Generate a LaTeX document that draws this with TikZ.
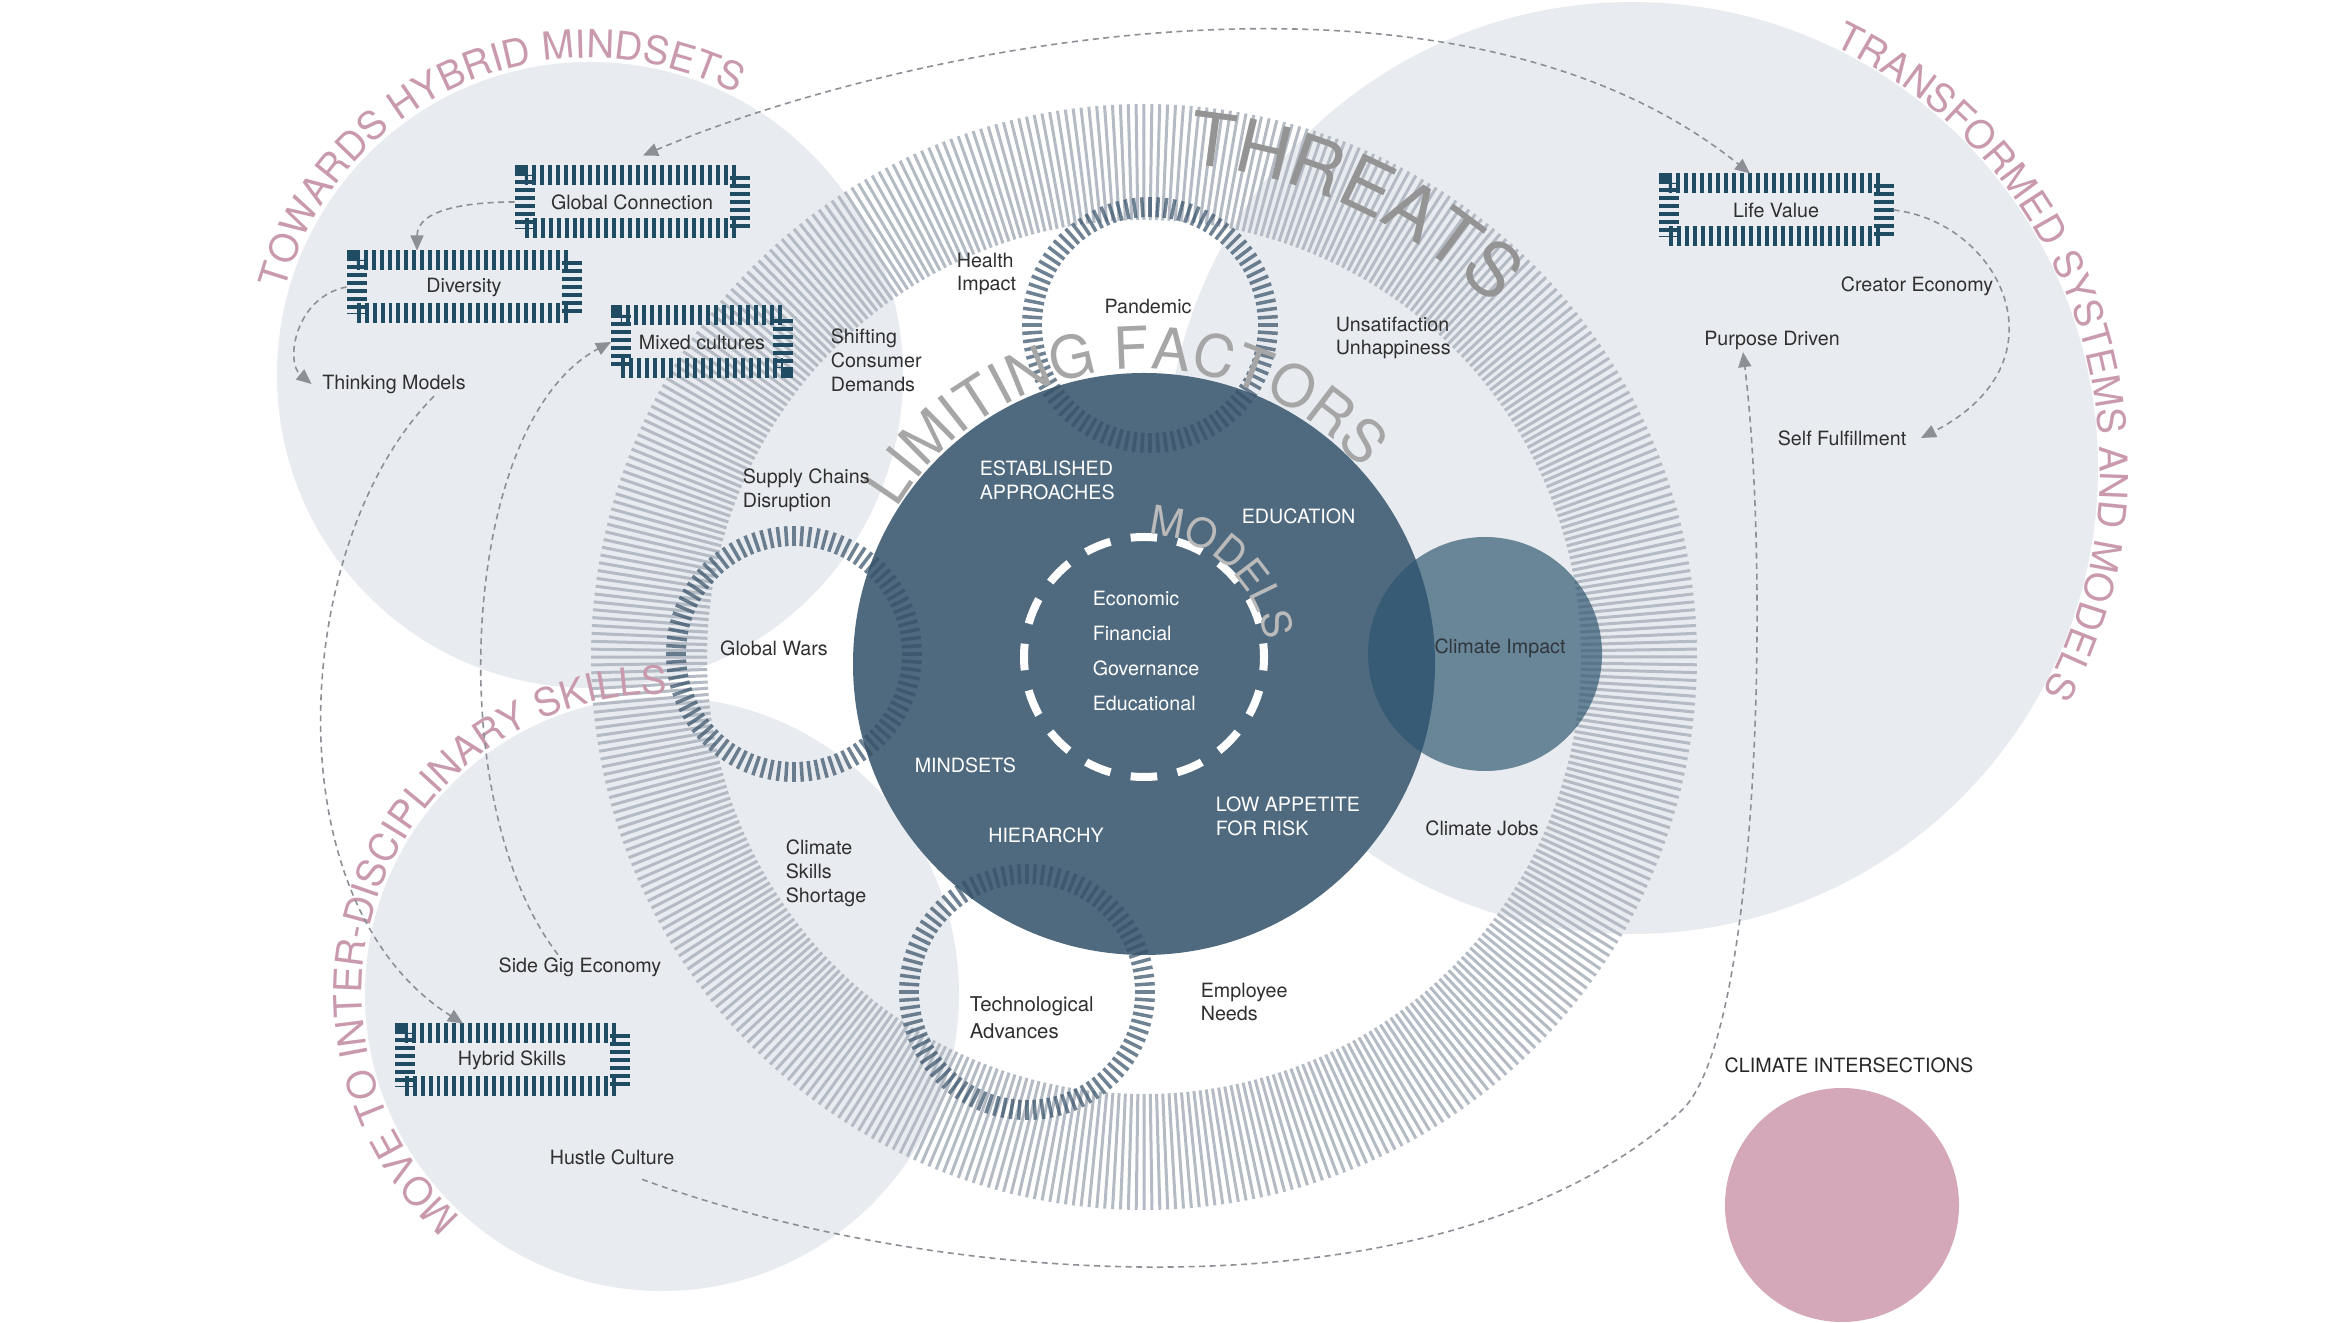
\documentclass[tikz,border=0pt]{standalone}
\usepackage{fontspec}
\setmainfont{TeX Gyre Heros}
\usepackage{tikz}
\usetikzlibrary{arrows.meta, decorations.text}
\definecolor{pane}{HTML}{E8EBEF}
\definecolor{bandgray}{HTML}{B4BBC4}
\definecolor{coreblue}{HTML}{4F6A7F}
\definecolor{ringblue}{HTML}{38536A}
\definecolor{impactblue}{HTML}{2D556F}
\definecolor{boxteal}{HTML}{1F4B63}
\definecolor{mauve}{HTML}{C99AAE}
\definecolor{blush}{HTML}{D4A8B9}
\definecolor{ink}{HTML}{303030}
\definecolor{linegray}{HTML}{8C9096}
\definecolor{lettergray}{HTML}{9C9C9C}

\begin{document}
\begin{tikzpicture}[
  lab/.style={font=\fontsize{5.6}{6.8}\selectfont, text=ink, align=left, inner sep=0.6pt},
  caps/.style={lab, text=white},
  stripebox/.style={draw=boxteal, line width=0.2cm, dash pattern=on 0.04cm off 0.04cm,
    minimum width=2.15cm, minimum height=0.53cm, inner sep=0pt,
    font=\fontsize{5.6}{6.8}\selectfont, text=ink},
  flow/.style={draw=linegray, line width=0.45pt, dash pattern=on 0.06cm off 0.045cm,
    -{Triangle[length=1.5mm, width=1.3mm]}},
  bandline/.style={draw=bandgray, line width=0.03cm},
  ringline/.style={draw=ringblue, draw opacity=0.72, line width=0.035cm}
]
  \fill[white] (0,0) rectangle (23.5,13.22);
  \useasboundingbox (0,0) rectangle (23.5,13.22);

  % Light panes
  \fill[pane] (5.90,9.47) circle (3.13);
  \fill[pane] (16.32,8.54) circle (4.66);
  \fill[pane] (6.62,3.28) circle (2.97);

  % Threats band
  \begin{scope}[shift={(11.44,6.65)}]
    \foreach \i in {1,...,440}
      \draw[bandline] (\i*0.8182:4.37) -- (\i*0.8182:5.53);
    \path[fill opacity=0.8, decorate, decoration={text along path,
        text={|\fontsize{21}{21}\selectfont\color{lettergray!95!black}|THREATS}}]
      (85:4.95) arc[start angle=85, end angle=20, radius=4.95];
  \end{scope}

  % Core
  \fill[coreblue] (11.44,6.58) circle (2.91);

  % Threat rings
  \foreach \cx/\cy in {11.50/9.97, 7.94/6.68, 10.27/3.30} {
    \begin{scope}[shift={(\cx,\cy)}]
      \foreach \i in {1,...,96}
        \draw[ringline] (\i*3.75:1.08) -- (\i*3.75:1.28);
    \end{scope}
  }

  \fill[impactblue, opacity=0.68] (14.85,6.68) circle (1.17);

  % Models ring
  \begin{scope}[shift={(11.44,6.65)}]
    \draw[white, line width=0.08cm, dash pattern=on 0.265cm off 0.206cm, dash phase=0.13cm] (0,0) circle (1.20);
    \path[fill opacity=0.85, decorate, decoration={text along path,
        text={|\fontsize{16.5}{17}\selectfont\color{lettergray!90}|LIMITING FACTORS}}]
      (149:2.88) arc[start angle=149, end angle=5, radius=2.88];
    \path[fill opacity=0.6, decorate, decoration={text along path,
        text={|\fontsize{11.5}{12}\selectfont\color{lettergray!70}|MODELS}}]
      (88:1.22) arc[start angle=88, end angle=-40, radius=1.22];
  \end{scope}

  % Pane titles
  \begin{scope}[shift={(5.90,9.47)}]
    \path[decorate, decoration={text along path,
        text={|\fontsize{11}{11}\selectfont\color{mauve}|TOWARDS HYBRID MINDSETS}}]
      (164.5:3.17) arc[start angle=164.5, end angle=30, radius=3.17];
  \end{scope}
  \begin{scope}[shift={(16.32,8.54)}]
    \path[decorate, decoration={text along path,
        text={|\fontsize{11}{11}\selectfont\color{mauve}|TRANSFORMED SYSTEMS AND MODELS}}]
      (64.5:4.68) arc[start angle=64.5, end angle=-60, radius=4.68];
  \end{scope}
  \begin{scope}[shift={(6.62,3.28)}]
    \path[decorate, decoration={text along path,
        text={|\fontsize{11}{11}\selectfont\color{mauve}|MOVE TO INTER-DISCIPLINARY SKILLS}}]
      (228:3.0) arc[start angle=228, end angle=60, radius=3.0];
  \end{scope}

  % Threat labels
  \node[lab, anchor=west] (health) at (9.54,10.48) {Health\\Impact};
  \node[lab, anchor=west] (unsat) at (13.33,9.84) {Unsatifaction\\Unhappiness};
  \node[lab, anchor=west] (demand) at (8.28,9.62) {Shifting\\Consumer\\Demands};
  \node[lab, anchor=west] (supply) at (7.40,8.32) {Supply Chains\\Disruption};
  \node[lab, anchor=west] (shortage) at (7.83,4.49) {Climate\\Skills\\Shortage};
  \node[lab, anchor=west] (employee) at (11.98,3.20) {Employee\\Needs};
  \node[lab, anchor=west, font=\fontsize{5.8}{7.6}\selectfont] (techno) at (9.67,3.04) {Technological\\Advances};
  \node[lab] (pandemic) at (11.48,10.16) {Pandemic};
  \node[lab] (wars) at (7.74,6.74) {Global Wars};
  \node[lab] (jobs) at (14.82,4.94) {Climate Jobs};
  \node[lab, text=ink!80!impactblue] (impact) at (15.00,6.74) {Climate Impact};

  % Limiting factors
  \node[caps, anchor=west] (approach) at (9.77,8.42) {ESTABLISHED\\APPROACHES};
  \node[caps, anchor=west] (educ) at (12.39,8.06) {EDUCATION};
  \node[caps, anchor=west] (mindset) at (9.12,5.57) {MINDSETS};
  \node[caps] (hier) at (10.46,4.87) {HIERARCHY};
  \node[caps, anchor=west] (risk) at (12.13,5.06) {LOW APPETITE\\FOR RISK};
  \node[caps, anchor=west, font=\fontsize{5.6}{10}\selectfont] (modlist) at (10.90,6.71)
    {Economic\\Financial\\Governance\\Educational};

  % Pane items
  \node[stripebox] (gc) at (6.32,11.20) {Global Connection};
  \node[stripebox] (div) at (4.64,10.35) {Diversity};
  \node[stripebox, minimum width=1.62cm] (mix) at (7.02,9.80) {Mixed cultures};
  \node[stripebox] (life) at (17.76,11.12) {Life Value};
  \node[stripebox] (hybrid) at (5.12,2.62) {Hybrid Skills};
  \node[lab] (think) at (3.94,9.38) {Thinking Models};
  \node[lab] (sidegig) at (5.80,3.55) {Side Gig Economy};
  \node[lab] (hustle) at (6.12,1.65) {Hustle Culture};
  \node[lab] (creator) at (19.17,10.36) {Creator Economy};
  \node[lab] (purpose) at (17.72,9.82) {Purpose Driven};
  \node[lab] (selff) at (18.42,8.84) {Self Fulfillment};

  % Connectors
  \draw[flow, {Triangle[length=1.5mm, width=1.3mm]}-{Triangle[length=1.5mm, width=1.3mm]}]
    ([xshift=1.1mm, yshift=1mm]gc.north) .. controls (9.0,12.75) and (14.5,13.9) .. ([xshift=-2.6mm]life.north);
  \draw[flow] (gc.west) to[out=180, in=90] ([xshift=-4.7mm]div.north);
  \draw[flow] (div.west) .. controls (2.95,10.25) and (2.85,9.6) .. ([xshift=-0.8mm]think.west);
  \draw[flow] ([xshift=4mm]think.south) .. controls (2.9,7.8) and (2.7,4.2) .. ([xshift=-4.9mm]hybrid.north);
  \draw[flow] ([xshift=-2.2mm]sidegig.north) .. controls (4.4,5.2) and (4.6,9.0) .. (mix.west);
  \draw[flow] ([xshift=3mm, yshift=-1.2mm]hustle.south) .. controls (9.5,0.3) and (14.5,0.0) .. (16.8,2.1)
    .. controls (17.6,2.8) and (17.7,7.5) .. ([xshift=-2.9mm]purpose.south);
  \draw[flow] (life.east) .. controls (20.0,11.0) and (20.7,9.6) .. ([xshift=1.2mm]selff.east);

  % Climate intersections
  \fill[blush] (18.42,1.17) circle (1.17);
  \node[lab, text=black!85] (inter) at (18.49,2.57) {CLIMATE INTERSECTIONS};
\end{tikzpicture}
\end{document}
